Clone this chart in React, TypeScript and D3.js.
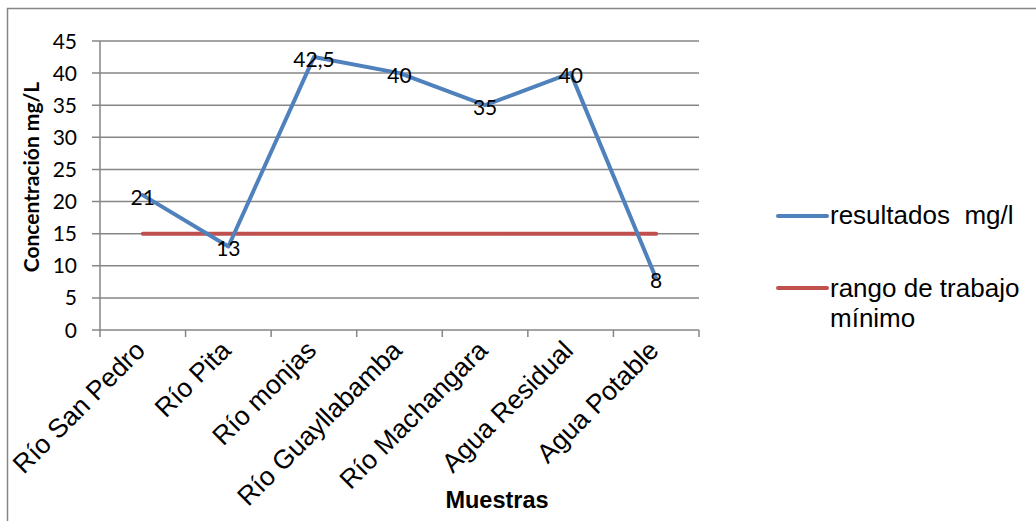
import React from 'react';
import * as d3 from 'd3';

const categories = ['Río San Pedro', 'Río Pita', 'Río monjas', 'Río Guayllabamba', 'Río Machangara', 'Agua Residual', 'Agua Potable'];
const resultados = [21, 13, 42.5, 40, 35, 40, 8];
const rangoMinimo = [15, 15, 15, 15, 15, 15, 15];
const yTicks = [0, 5, 10, 15, 20, 25, 30, 35, 40, 45];
const resultLabels = ['21', '13', '42,5', '40', '35', '40', '8'];

const W = 1036;
const H = 521;
const plot = { left: 100, right: 699, top: 41, bottom: 330 };

export default function App() {
  const x = d3.scaleBand<string>().domain(categories).range([plot.left, plot.right]);
  const y = d3.scaleLinear().domain([0, 45]).range([plot.bottom, plot.top]);
  const cx = (c: string) => (x(c) as number) + x.bandwidth() / 2;

  const line = d3
    .line<number>()
    .x((_, i) => cx(categories[i]))
    .y((d) => y(d));

  const grid = '#868686';
  const tickFont = 'Lato, "Open Sans", sans-serif';
  const arial = '"Liberation Sans", Arial, sans-serif';

  return (
    <svg width={W} height={H} style={{ position: 'absolute', left: 0, top: 0, background: '#fff' }}>
      {/* chart frame, clipped at right and bottom */}
      <rect x={7.5} y={8.5} width={W + 10} height={H + 10} fill="none" stroke={grid} strokeWidth={1.5} />

      {/* gridlines and y ticks */}
      {yTicks.map((t) => (
        <g key={t}>
          <line x1={plot.left - 8} x2={plot.right} y1={y(t)} y2={y(t)} stroke={grid} strokeWidth={1.5} />
          <text x={77} y={y(t)} dy="0.36em" textAnchor="end" fontFamily={tickFont} fontSize={21} fill="#000">
            {t}
          </text>
        </g>
      ))}
      <line x1={plot.left} x2={plot.left} y1={plot.top} y2={plot.bottom} stroke={grid} strokeWidth={1.5} />

      {/* x ticks */}
      {categories.concat(['']).map((c, i) => {
        const xx = i < categories.length ? (x(c) as number) : plot.right;
        return <line key={i} x1={xx} x2={xx} y1={plot.bottom} y2={plot.bottom + 7} stroke={grid} strokeWidth={1.5} />;
      })}

      {/* category labels */}
      {categories.map((c) => (
        <text
          key={c}
          transform={`translate(${cx(c) + 4},${plot.bottom + 22}) rotate(-45)`}
          textAnchor="end"
          fontFamily={arial}
          fontSize={26.5}
          fill="#000"
        >
          {c}
        </text>
      ))}

      {/* series */}
      <path d={line(rangoMinimo) as string} fill="none" stroke="#C0504D" strokeWidth={4} strokeLinecap="round" />
      <path d={line(resultados) as string} fill="none" stroke="#4F81BD" strokeWidth={4} strokeLinecap="round" strokeLinejoin="round" />

      {/* data labels */}
      {resultados.map((v, i) => (
        <text key={i} x={cx(categories[i])} y={y(v) + 2} dy="0.36em" textAnchor="middle" fontFamily={tickFont} fontSize={21} fill="#000">
          {resultLabels[i]}
        </text>
      ))}

      {/* axis titles */}
      <text x={497} y={508} textAnchor="middle" fontFamily={arial} fontWeight="bold" fontSize={23.5} fill="#000">
        Muestras
      </text>
      <text
        transform={`translate(39,177) rotate(-90)`}
        textAnchor="middle"
        fontFamily={tickFont}
        fontWeight="bold"
        fontSize={21}
        fill="#000"
      >
        Concentración mg/L
      </text>

      {/* legend */}
      <line x1={778} x2={827} y1={216} y2={216} stroke="#4F81BD" strokeWidth={4} strokeLinecap="round" />
      <text x={830} y={224} fontFamily={arial} fontSize={26} fill="#000" xmlSpace="preserve">
        resultados  mg/l
      </text>
      <line x1={778} x2={827} y1={288} y2={288} stroke="#C0504D" strokeWidth={4} strokeLinecap="round" />
      <text x={830} y={297} fontFamily={arial} fontSize={26} fill="#000">
        rango de trabajo
      </text>
      <text x={830} y={327} fontFamily={arial} fontSize={26} fill="#000">
        mínimo
      </text>
    </svg>
  );
}
